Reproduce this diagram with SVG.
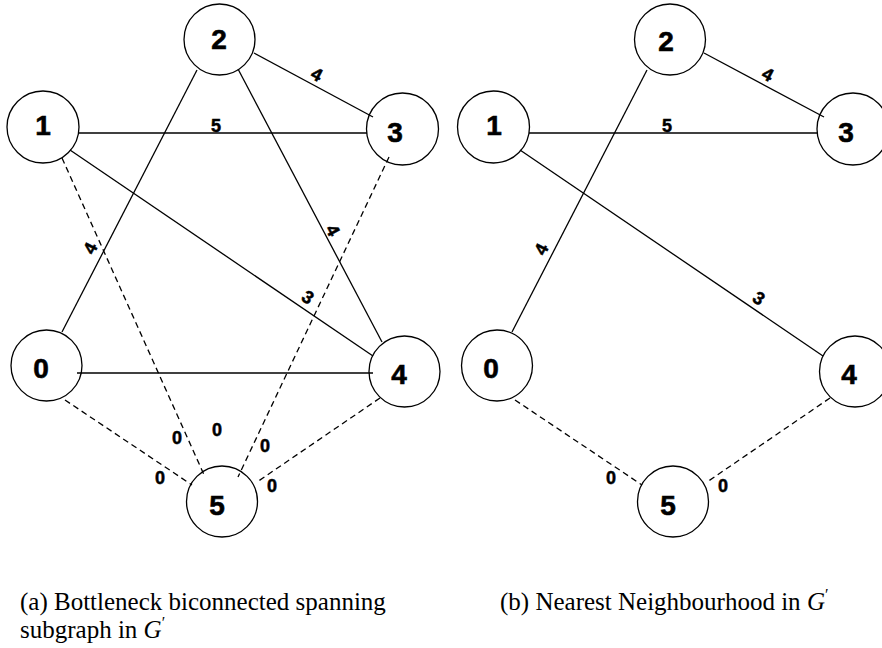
<svg xmlns="http://www.w3.org/2000/svg" width="882" height="648" viewBox="0 0 882 648">
<style>
.node circle{fill:#fff;stroke:#000;stroke-width:1.3}
.node text{font-family:"Liberation Sans",Arial,sans-serif;font-weight:bold;font-size:28px;text-anchor:middle;fill:#000;stroke:#000;stroke-width:0.6}
.edge{stroke:#000;stroke-width:1.3;fill:none}
.dash{stroke-dasharray:6,4}
.el{font-family:"Liberation Sans",Arial,sans-serif;font-weight:bold;font-size:18px;text-anchor:middle;fill:#000;stroke:#000;stroke-width:0.5}
.cap{font-family:"Liberation Serif","Times New Roman",serif;font-size:25px;fill:#000}
</style>
<rect width="882" height="648" fill="#fff"/>
<g id="a-nodes">
<g id="a0" class="node"><circle cx="46.5" cy="365.5" r="35.5"/><text x="41" y="378">0</text></g>
<g id="a1" class="node"><circle cx="43" cy="127" r="36"/><text x="43" y="135">1</text></g>
<g id="a2" class="node"><circle cx="219.5" cy="39.5" r="35.5"/><text x="219" y="49">2</text></g>
<g id="a3" class="node"><circle cx="402.5" cy="129" r="36"/><text x="395" y="142">3</text></g>
<g id="a4" class="node"><circle cx="404.5" cy="371.5" r="35.5"/><text x="399" y="384">4</text></g>
<g id="a5" class="node"><circle cx="222" cy="501.5" r="35.5"/><text x="217" y="515">5</text></g>
</g>
<g id="b-nodes">
<g id="b0" class="node"><circle cx="497" cy="365.5" r="35.5"/><text x="491" y="378">0</text></g>
<g id="b1" class="node"><circle cx="493.5" cy="127" r="36"/><text x="494" y="135">1</text></g>
<g id="b2" class="node"><circle cx="670" cy="39.5" r="35.5"/><text x="666" y="51">2</text></g>
<g id="b3" class="node"><circle cx="853" cy="129" r="36"/><text x="846" y="142">3</text></g>
<g id="b4" class="node"><circle cx="855" cy="371.5" r="35.5"/><text x="849" y="384">4</text></g>
<g id="b5" class="node"><circle cx="673" cy="501.5" r="35.5"/><text x="668" y="515">5</text></g>
</g>
<g id="connectors">
<line class="edge" x1="79" y1="133" x2="367" y2="133"/>
<line class="edge" x1="254" y1="53" x2="373" y2="117"/>
<line class="edge" x1="197" y1="70" x2="62" y2="332"/>
<line class="edge" x1="238" y1="69" x2="382" y2="342"/>
<line class="edge" x1="70" y1="150" x2="373" y2="356"/>
<line class="edge" x1="77" y1="373" x2="373" y2="373"/>
<line class="edge dash" x1="62" y1="158" x2="205" y2="477"/>
<line class="edge dash" x1="389" y1="157" x2="238" y2="477"/>
<line class="edge dash" x1="65" y1="400" x2="192" y2="485"/>
<line class="edge dash" x1="380" y1="398" x2="257" y2="482"/>
<line class="edge" x1="529" y1="133" x2="817" y2="133"/>
<line class="edge" x1="704" y1="53" x2="824" y2="117"/>
<line class="edge" x1="647" y1="70" x2="512" y2="332"/>
<line class="edge" x1="520" y1="150" x2="823" y2="356"/>
<line class="edge dash" x1="515" y1="400" x2="642" y2="485"/>
<line class="edge dash" x1="830" y1="398" x2="707" y2="482"/>
</g>
<g id="edge-labels">
<text class="el" x="216" y="131.5">5</text>
<text class="el" transform="translate(317,74) rotate(28)" y="6.5">4</text>
<text class="el" transform="translate(90,248) rotate(-63)" y="6.5">4</text>
<text class="el" transform="translate(333,230) rotate(62)" y="6.5">4</text>
<text class="el" transform="translate(308,297) rotate(34)" y="6.5">3</text>
<text class="el" x="177" y="443.5">0</text>
<text class="el" x="217" y="435.5">0</text>
<text class="el" x="265" y="451.5">0</text>
<text class="el" x="160" y="483.5">0</text>
<text class="el" x="272" y="491.5">0</text>
<text class="el" x="667" y="131.5">5</text>
<text class="el" transform="translate(768,74) rotate(28)" y="6.5">4</text>
<text class="el" transform="translate(541,249) rotate(-63)" y="6.5">4</text>
<text class="el" transform="translate(759,298) rotate(34)" y="6.5">3</text>
<text class="el" x="611" y="483.5">0</text>
<text class="el" x="723" y="491.5">0</text>
</g>
<g id="captions">
<text class="cap" x="20" y="610">(a) Bottleneck biconnected spanning</text>
<text class="cap" x="20" y="638">subgraph in <tspan font-style="italic">G</tspan><tspan font-size="16" dy="-10">′</tspan></text>
<text class="cap" x="500" y="610">(b) Nearest Neighbourhood in <tspan font-style="italic">G</tspan><tspan font-size="16" dy="-10">′</tspan></text>
</g>
</svg>
